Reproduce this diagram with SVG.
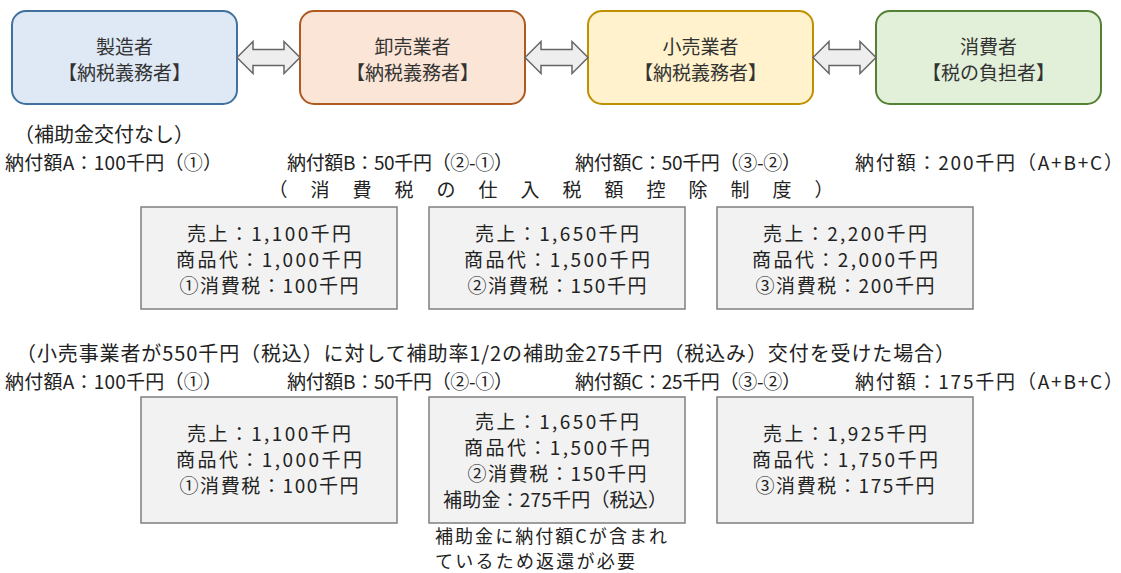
<svg xmlns="http://www.w3.org/2000/svg" width="1121" height="573" viewBox="0 0 1121 573">
<style>
text{font-family:"Noto Sans CJK JP","Noto Sans",sans-serif;font-size:20px;fill:#222}
.tb text{fill:#333;text-anchor:middle;font-size:19px}
.lbl{font-size:19px}
.bx rect{fill:#f2f2f2;stroke:#7f7f7f;stroke-width:1.5}
.bx text{text-anchor:middle;font-size:19px}
.note{font-size:18px}
.arr{fill:#eeeeee;stroke:#666;stroke-width:1.5;stroke-linejoin:miter}
</style>
<rect width="1121" height="573" fill="#fff"/>
<g id="manufacturer" class="tb">
<rect x="12" y="11" width="225" height="93" rx="14" fill="#dee9f5" stroke="#41719c" stroke-width="2"/>
<text x="124.5" y="53.5">製造者</text><text x="124.5" y="79.5">【納税義務者】</text>
</g>
<g id="wholesaler" class="tb">
<rect x="300" y="11" width="225" height="93" rx="14" fill="#fbe5d6" stroke="#ae5a21" stroke-width="2"/>
<text x="412.5" y="53.5">卸売業者</text><text x="412.5" y="79.5">【納税義務者】</text>
</g>
<g id="retailer" class="tb">
<rect x="588" y="11" width="225" height="93" rx="14" fill="#fff2cc" stroke="#bf9000" stroke-width="2"/>
<text x="700.5" y="53.5">小売業者</text><text x="700.5" y="79.5">【納税義務者】</text>
</g>
<g id="consumer" class="tb">
<rect x="876" y="11" width="225" height="93" rx="14" fill="#e2f0d9" stroke="#538135" stroke-width="2"/>
<text x="988.5" y="53.5">消費者</text><text x="988.5" y="79.5">【税の負担者】</text>
</g>
<g id="connectors">
<path class="arr" d="M237,57.5 L253,41.5 L253,49.5 L284,49.5 L284,41.5 L300,57.5 L284,73.5 L284,65.5 L253,65.5 L253,73.5 Z"/>
<path class="arr" d="M525,57.5 L541,41.5 L541,49.5 L572,49.5 L572,41.5 L588,57.5 L572,73.5 L572,65.5 L541,65.5 L541,73.5 Z"/>
<path class="arr" d="M813,57.5 L829,41.5 L829,49.5 L860,49.5 L860,41.5 L876,57.5 L860,73.5 L860,65.5 L829,65.5 L829,73.5 Z"/>
</g>
<g id="case1-labels">
<text x="14" y="142">（補助金交付なし）</text>
<text class="lbl" x="5" y="170" textLength="217">納付額A：100千円（①）</text>
<text class="lbl" x="287" y="170" textLength="226">納付額B：50千円（②-①）</text>
<text class="lbl" x="575" y="170" textLength="226">納付額C：50千円（③-②）</text>
<text class="lbl" x="855" y="170" textLength="268">納付額：200千円（A+B+C）</text>
<text class="lbl" x="268.5" y="197" letter-spacing="23">（消費税の仕入税額控除制度）</text>
</g>
<g id="case1-a" class="bx">
<rect x="141" y="207" width="256" height="102"/>
<text x="269" y="241" textLength="164">売上：1,100千円</text><text x="269" y="267" textLength="186">商品代：1,000千円</text><text x="269" y="293" textLength="179">①消費税：100千円</text>
</g>
<g id="case1-b" class="bx">
<rect x="429" y="207" width="256" height="102"/>
<text x="557" y="241" textLength="164">売上：1,650千円</text><text x="557" y="267" textLength="186">商品代：1,500千円</text><text x="557" y="293" textLength="179">②消費税：150千円</text>
</g>
<g id="case1-c" class="bx">
<rect x="717" y="207" width="256" height="102"/>
<text x="845" y="241" textLength="164">売上：2,200千円</text><text x="845" y="267" textLength="186">商品代：2,000千円</text><text x="845" y="293" textLength="179">③消費税：200千円</text>
</g>
<g id="case2-labels">
<text x="16" y="361" textLength="939">（小売事業者が550千円（税込）に対して補助率1/2の補助金275千円（税込み）交付を受けた場合）</text>
<text class="lbl" x="5" y="389" textLength="217">納付額A：100千円（①）</text>
<text class="lbl" x="287" y="389" textLength="226">納付額B：50千円（②-①）</text>
<text class="lbl" x="575" y="389" textLength="226">納付額C：25千円（③-②）</text>
<text class="lbl" x="855" y="389" textLength="268">納付額：175千円（A+B+C）</text>
</g>
<g id="case2-a" class="bx">
<rect x="141" y="397" width="256" height="126"/>
<text x="269" y="441" textLength="164">売上：1,100千円</text><text x="269" y="467" textLength="186">商品代：1,000千円</text><text x="269" y="493" textLength="179">①消費税：100千円</text>
</g>
<g id="case2-b" class="bx">
<rect x="429" y="397" width="256" height="126"/>
<text x="557" y="429" textLength="164">売上：1,650千円</text><text x="557" y="455" textLength="186">商品代：1,500千円</text><text x="557" y="481" textLength="179">②消費税：150千円</text><text x="555" y="507" textLength="224">補助金：275千円（税込）</text>
</g>
<g id="case2-c" class="bx">
<rect x="717" y="397" width="256" height="126"/>
<text x="845" y="441" textLength="164">売上：1,925千円</text><text x="845" y="467" textLength="186">商品代：1,750千円</text><text x="845" y="493" textLength="179">③消費税：175千円</text>
</g>
<g id="note">
<text class="note" x="435" y="543" textLength="232">補助金に納付額Cが含まれ</text>
<text class="note" x="435" y="568" textLength="200">ているため返還が必要</text>
</g>
</svg>
